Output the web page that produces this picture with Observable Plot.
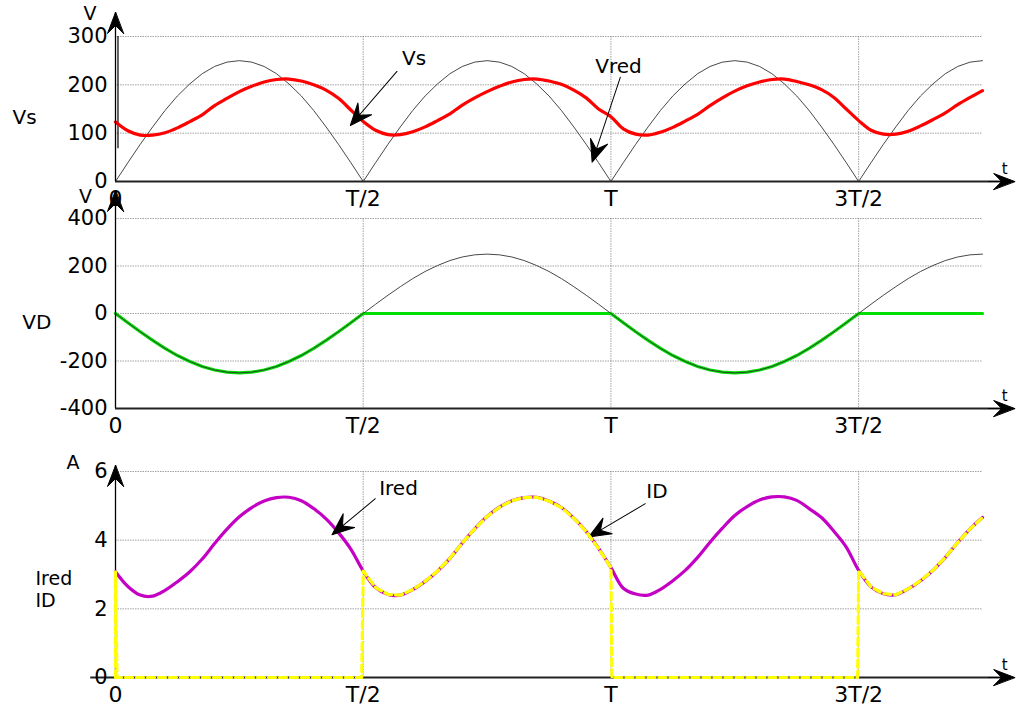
<!DOCTYPE html>
<html><head><meta charset="utf-8">
<script src="https://cdn.jsdelivr.net/npm/d3@7"></script>
<script src="https://cdn.jsdelivr.net/npm/@observablehq/plot@0.6"></script>
<style>
body{margin:0;background:#fff;}
#chart{position:relative;width:1016px;height:706px;overflow:hidden;background:#fff;}
#chart svg{position:absolute;left:0;overflow:visible;background:transparent;}
</style></head><body><div id="chart"></div>
<script>
// ---- data (t in units of the period T) ----
const tSamples = [0,0.025,0.05,0.075,0.1,0.125,0.15,0.175,0.2,0.225,0.25,0.275,0.3,0.325,0.35,0.375,0.4,0.425,0.45,0.475,
  0.5,0.525,0.55,0.575,0.6,0.625,0.65,0.675,0.7,0.725,0.75,0.775,0.8,0.825,0.85,0.875,0.9,0.925,0.95,0.975,
  1,1.025,1.05,1.075,1.1,1.125,1.15,1.175,1.2,1.225,1.25,1.275,1.3,1.325,1.35,1.375,1.4,1.425,1.45,1.475,
  1.5,1.525,1.55,1.575,1.6,1.625,1.65,1.675,1.7,1.725,1.75];
const xTickValues = [0, 0.5, 1, 1.5];
const xTickLabels = ["0", "T/2", "T", "3T/2"];

// panel 1 : Vs (thin black) and Vred (red)
const vsValues = [0,39,77,113,147,177,202,223,238,247,250,247,238,223,202,177,147,113,77,39,
  0,39,77,113,147,177,202,223,238,247,250,247,238,223,202,177,147,113,77,39,
  0,39,77,113,147,177,202,223,238,247,250,247,238,223,202,177,147,113,77,39,
  0,39,77,113,147,177,202,223,238,247,250];
const vredValues = [123,105,96,96,101,111,124,138,157,172,186,197,206,211,212,208,200,189,172,148,
  124,106,97,97,103,113,126,140,158,173,186,197,206,211,212,208,201,189,173,150,
  134,109,98,96,102,112,125,139,157,173,187,198,206,211,212,207,200,190,174,150,
  126,106,98,98,104,115,128,142,159,174,188];
const yTicks1 = [0, 100, 200, 300];

// panel 2 : source voltage (thin black) and VD (green)
const vSourceValues = [0,-39,-77,-113,-147,-177,-202,-223,-238,-247,-250,-247,-238,-223,-202,-177,-147,-113,-77,-39,
  0,39,77,113,147,177,202,223,238,247,250,247,238,223,202,177,147,113,77,39,
  0,-39,-77,-113,-147,-177,-202,-223,-238,-247,-250,-247,-238,-223,-202,-177,-147,-113,-77,-39,
  0,39,77,113,147,177,202,223,238,247,250];
const vdValues = [0,-39,-77,-113,-147,-177,-202,-223,-238,-247,-250,-247,-238,-223,-202,-177,-147,-113,-77,-39,
  0,0,0,0,0,0,0,0,0,0,0,0,0,0,0,0,0,0,0,0,
  0,-39,-77,-113,-147,-177,-202,-223,-238,-247,-250,-247,-238,-223,-202,-177,-147,-113,-77,-39,
  0,0,0,0,0,0,0,0,0,0,0];
const yTicks2 = [-400, -200, 0, 200, 400];

// panel 3 : Ired (magenta) and ID (yellow dashed)
const iredValues = [3.08,2.65,2.40,2.37,2.54,2.79,3.08,3.45,3.90,4.32,4.68,4.95,5.14,5.24,5.25,5.15,4.92,4.62,4.22,3.74,
  3.10,2.62,2.42,2.40,2.56,2.80,3.10,3.47,3.92,4.33,4.69,4.96,5.15,5.24,5.25,5.14,4.95,4.64,4.25,3.76,
  3.20,2.60,2.43,2.40,2.57,2.82,3.12,3.50,3.94,4.35,4.72,4.98,5.17,5.26,5.26,5.16,4.92,4.66,4.26,3.80,
  3.12,2.64,2.44,2.41,2.58,2.82,3.12,3.50,3.93,4.33,4.66];
const idTimes = [0,0,0.003,0.497,
  0.5,0.525,0.55,0.575,0.6,0.625,0.65,0.675,0.7,0.725,0.75,0.775,0.8,0.825,0.85,0.875,0.9,0.925,0.95,0.975,
  1,1.002,1.498,
  1.5,1.525,1.55,1.575,1.6,1.625,1.65,1.675,1.7,1.725,1.75];
const idValues = [0,3.08,0,0,
  3.10,2.62,2.42,2.40,2.56,2.80,3.10,3.47,3.92,4.33,4.69,4.96,5.15,5.24,5.25,5.14,4.95,4.64,4.25,3.76,
  3.20,0,0,
  3.12,2.64,2.44,2.41,2.58,2.82,3.12,3.50,3.93,4.33,4.66];
const yTicks3 = [0, 2, 4, 6];

// ---- helpers ----
const FONT = "DejaVu Sans";
const series = (ts, vs) => ts.map((t, i) => ({t, v: vs[i]}));
function arrowShape(headLen, headHalf) {
  return {
    draw(context, l) {
      context.moveTo(0, 0);
      context.lineTo(0, -l);
      context.moveTo(0, -l);
      context.lineTo(-headHalf, -l + headLen);
      context.lineTo(0, -l + headLen * 0.62);
      context.lineTo(headHalf, -l + headLen);
      context.closePath();
    }
  };
}
const axisHead = arrowShape(21, 8);
const noteHead = arrowShape(22, 9);
const gridStyle = {stroke: "#8a8a8a", strokeWidth: 0.8, strokeDasharray: "1.5,1"};

function panel({top, height, marginTop, marginBottom, yDomain, yTicks, yGrid, yTip, xAxisStart, tLabelY, marks, topMarks = []}) {
  const svg = Plot.plot({
    width: 1016, height, marginLeft: 115, marginRight: 34, marginTop, marginBottom,
    x: {domain: [0, 1.75]},
    y: {domain: yDomain},
    style: {fontFamily: FONT, fontSize: "21px", background: "transparent", overflow: "visible", color: "black"},
    marks: [
      Plot.ruleY(yGrid, gridStyle),
      Plot.ruleX(xTickValues.slice(1), gridStyle),
      ...marks,
      Plot.ruleY([yDomain[0]], {x1: xAxisStart, x2: 1.8, stroke: "#222", strokeWidth: 2}),
      Plot.vector([{t: 1.815, v: yDomain[0]}], {x: "t", y: "v", length: 26, rotate: 90, anchor: "end", shape: axisHead, fill: "black", stroke: "black", strokeWidth: 1}),
      Plot.ruleX([0], {y1: yDomain[0], y2: yTip, stroke: "black", strokeWidth: 1.3}),
      Plot.vector([{t: 0, v: yTip}], {x: "t", y: "v", length: 22, rotate: 0, anchor: "end", shape: axisHead, fill: "black", stroke: "black", strokeWidth: 1}),
      ...topMarks,
      Plot.text(["t"], {x: 1.795, y: tLabelY, fontSize: 15, textAnchor: "middle"}),
      Plot.axisY(yTicks, {tickSize: 0, tickPadding: 8, fontSize: 21, tickFormat: d => String(d), label: null}),
      Plot.axisX(xTickValues, {tickSize: 0, tickPadding: 9, fontSize: 22, tickFormat: d => xTickLabels[xTickValues.indexOf(d)], label: null})
    ]
  });
  svg.style.top = top + "px";
  document.getElementById("chart").appendChild(svg);
}

// panel 1
panel({
  top: 0, height: 220, marginTop: 36, marginBottom: 39,
  yDomain: [0, 300], yTicks: yTicks1, yGrid: [100, 200, 300], yTip: 349.7, xAxisStart: 0, tLabelY: 24.8,
  marks: [
    Plot.ruleX([0.005], {y1: 68, y2: 300, stroke: "black", strokeWidth: 1.2}),
    Plot.line(series(tSamples, vsValues), {x: "t", y: "v", stroke: "#333", strokeWidth: 0.9}),
    Plot.line(series(tSamples, vredValues), {x: "t", y: "v", stroke: "#ff0000", strokeWidth: 3.2, curve: "catmull-rom"}),
    Plot.vector([{t: 0.474, v: 115.9}], {x: "t", y: "v", length: 71.4, rotate: 220.8, anchor: "end", shape: noteHead, fill: "black", stroke: "black", strokeWidth: 1}),
    Plot.vector([{t: 0.962, v: 40}], {x: "t", y: "v", length: 89.6, rotate: 198.4, anchor: "end", shape: noteHead, fill: "black", stroke: "black", strokeWidth: 1}),
    Plot.text(["Vs"], {x: 0.6025, y: 253.7, fontSize: 20}),
    Plot.text(["Vred"], {x: 1.0153, y: 237.3, fontSize: 20}),
    Plot.text(["V"], {x: -0.0515, y: 346, fontSize: 19}),
    Plot.text(["Vs"], {x: -0.2079, y: 131.4, fontSize: 20, textAnchor: "start"})
  ]
});

// panel 2
panel({
  top: 190, height: 250, marginTop: 28, marginBottom: 32,
  yDomain: [-400, 400], yTicks: yTicks2, yGrid: [-200, 0, 200, 400], yTip: 517.9, xAxisStart: 0, tLabelY: -349.5,
  marks: [
    Plot.line(series(tSamples, vdValues), {x: "t", y: "v", stroke: "#00e000", strokeWidth: 3.2}),
    Plot.line(series(tSamples, vSourceValues), {x: "t", y: "v", stroke: "#333", strokeWidth: 0.9}),
    Plot.text(["V"], {x: -0.0606, y: 492, fontSize: 19}),
    Plot.text(["VD"], {x: -0.1883, y: -40, fontSize: 20, textAnchor: "start"})
  ]
});

// panel 3
panel({
  top: 450, height: 256, marginTop: 21, marginBottom: 29,
  yDomain: [0, 6], yTicks: yTicks3, yGrid: [2, 4, 6], yTip: 6.175, xAxisStart: -0.05, tLabelY: 0.35,
  marks: [
    Plot.line(series(tSamples, iredValues), {x: "t", y: "v", stroke: "#c400c4", strokeWidth: 3.2, curve: "catmull-rom"}),
    Plot.vector([{t: 0.437, v: 4.16}], {x: "t", y: "v", length: 56.3, rotate: 230.3, anchor: "end", shape: noteHead, fill: "black", stroke: "black", strokeWidth: 1}),
    Plot.vector([{t: 0.955, v: 4.09}], {x: "t", y: "v", length: 65.8, rotate: 239.5, anchor: "end", shape: noteHead, fill: "black", stroke: "black", strokeWidth: 1}),
    Plot.text(["Ired"], {x: 0.5712, y: 5.505, fontSize: 20}),
    Plot.text(["ID"], {x: 1.093, y: 5.418, fontSize: 20}),
    Plot.text(["A"], {x: -0.0858, y: 6.26, fontSize: 19}),
    Plot.text(["Ired"], {x: -0.1615, y: 2.88, fontSize: 19, textAnchor: "start"}),
    Plot.text(["ID"], {x: -0.1615, y: 2.22, fontSize: 19, textAnchor: "start"})
  ],
  topMarks: [
    Plot.line(series(idTimes, idValues), {x: "t", y: "v", stroke: "#ffff00", strokeWidth: 3.2, strokeDasharray: "7,4"})
  ]
});
</script></body></html>
